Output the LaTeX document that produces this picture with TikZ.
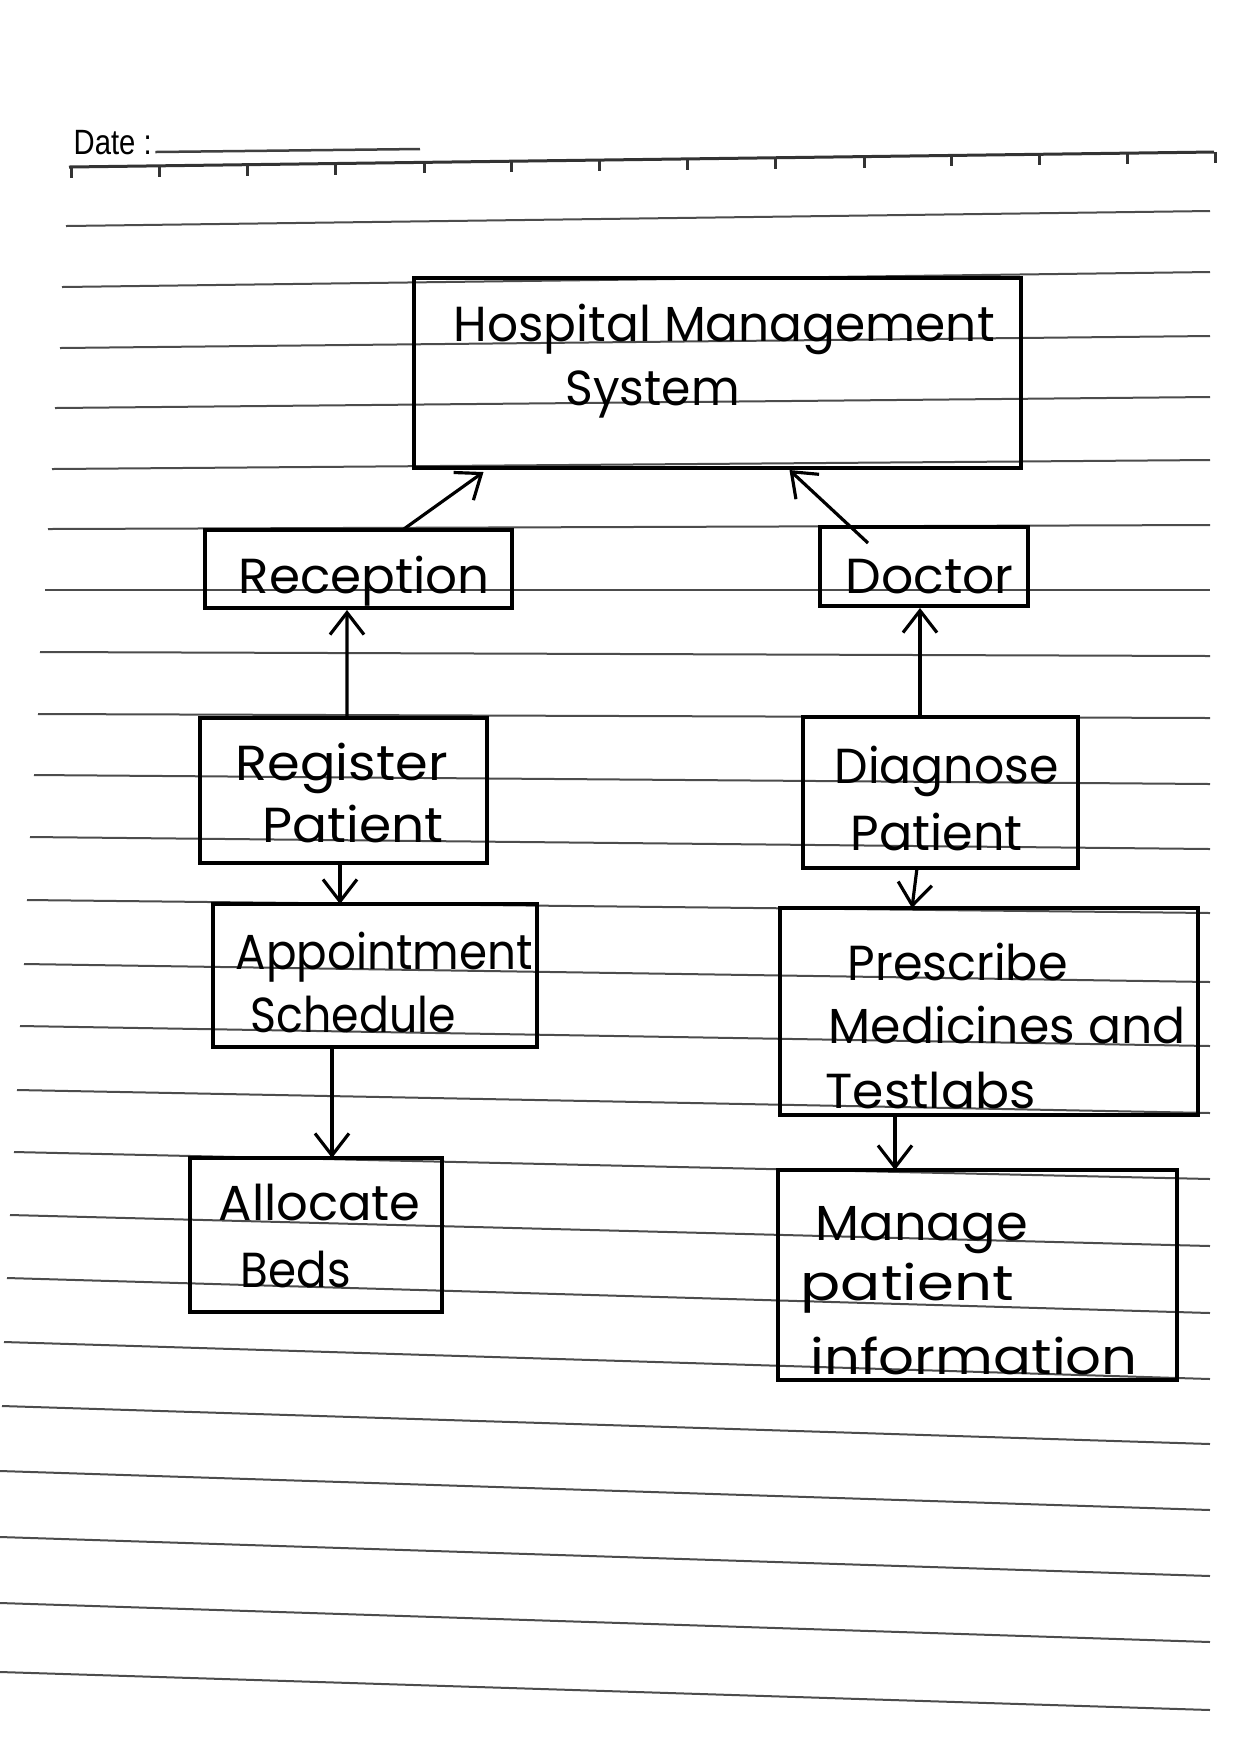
\documentclass[tikz,border=0pt]{standalone}
\usepackage{fontspec}
\usepackage{graphicx}
\setmainfont{Liberation Sans}
\newfontfamily\hand{Poppins}
\usetikzlibrary{arrows.meta,calc}
% set a handwritten word to a given width, keeping its height
\newcommand{\wordw}[2]{\resizebox{#1}{\height}{#2}}

\begin{document}
\begin{tikzpicture}[x=0.1mm,y=-0.1mm,
  box/.style={draw,line width=1.1pt,rectangle,inner sep=0pt,outer sep=0pt},
  lbl/.style={anchor=base west,inner sep=0pt,font=\hand\fontsize{14pt}{16pt}\selectfont},
  arr/.style={line width=0.9pt,-{Straight Barb[length=2.2mm,width=3.4mm,line width=0.9pt]}},
  rule/.style={line width=0.2mm,black!70}]
\useasboundingbox (0,0) rectangle (1240,1755);
\fill[white] (0,0) rectangle (1240,1755);

% ruled notebook lines: left x, left y, right y
\foreach \xl/\yl/\yr in {
  66/226/211, 62/287/272, 60/348/336, 55/408/397, 52/469/460,
  48/529/525, 45/590/590, 40/652/656, 38/714/718, 34/775/784,
  30/837/849, 27/900/913, 24/964/982, 20/1026/1046, 17/1090/1113,
  14/1152/1179, 10/1215/1246, 7/1278/1313, 4/1342/1379, 2/1406/1444,
  0/1471/1510, 0/1537/1576, 0/1603/1642, 0/1672/1710}
  \draw[rule] (\xl,\yl) -- (1210,\yr);

% top ruler with ticks
\coordinate (r1) at (69,167);
\coordinate (r2) at (1214,152);
\draw[line width=0.3mm,black!80] (r1) -- (r2);
\foreach \k in {0,...,13}
  \draw[line width=0.3mm,black!80] ($(r1)!{(3+88*\k)/1145}!(r2)$) -- ++(0,11);

% date field
\node[anchor=base west,inner sep=0pt,font=\fontsize{10pt}{12pt}\selectfont] (date) at (73,154) {\wordw{7.8mm}{Date :}};
\draw[line width=0.25mm,black!75] ($(date.base east)+(3,-2)$) -- (420,149);

% boxes
\node[box,minimum width=60.7mm,minimum height=19mm]   (hms)  at (717.5,373)  {};
\node[box,minimum width=30.7mm,minimum height=7.8mm]  (rec)  at (358.5,569)  {};
\node[box,minimum width=20.8mm,minimum height=7.9mm]  (doc)  at (924,566.5)  {};
\node[box,minimum width=28.7mm,minimum height=14.5mm] (reg)  at (343.5,790.5) {};
\node[box,minimum width=27.5mm,minimum height=15.1mm] (diag) at (940.5,792.5) {};
\node[box,minimum width=32.4mm,minimum height=14.3mm] (appt) at (375,975.5)  {};
\node[box,minimum width=41.8mm,minimum height=20.7mm] (pres) at (989,1011.5) {};
\node[box,minimum width=25.2mm,minimum height=15.4mm] (beds) at (316,1235)   {};
\node[box,minimum width=39.9mm,minimum height=21mm]   (mpi)  at (977.5,1275) {};

% labels
\node[lbl] (hms-a)  at (453,341)  {\wordw{54.1mm}{Hospital Management}};
\node[lbl] (hms-b)  at (565,405)  {\wordw{17.4mm}{System}};
\node[lbl] (rec-a)  at (238,593)  {\wordw{25.1mm}{Reception}};
\node[lbl] (doc-a)  at (845,593)  {\wordw{16.8mm}{Doctor}};
\node[lbl] (reg-a)  at (235,780)  {\wordw{21.2mm}{Register}};
\node[lbl] (reg-b)  at (262,842)  {\wordw{18.1mm}{Patient}};
\node[lbl] (diag-a) at (834,783)  {\wordw{22.4mm}{Diagnose}};
\node[lbl] (diag-b) at (850,850)  {\wordw{17.2mm}{Patient}};
\node[lbl] (appt-a) at (235,969)  {\wordw{29.7mm}{Appointment}};
\node[lbl] (appt-b) at (250,1032) {\wordw{20.5mm}{Schedule}};
\node[lbl] (pres-a) at (847,980)  {\wordw{22mm}{Prescribe}};
\node[lbl] (pres-b) at (828,1043) {\wordw{35.7mm}{Medicines and}};
\node[lbl] (pres-c) at (825,1108) {\wordw{21mm}{Testlabs}};
\node[lbl] (beds-a) at (218,1220) {\wordw{20.2mm}{Allocate}};
\node[lbl] (beds-b) at (240,1287) {\wordw{11mm}{Beds}};
\node[lbl] (mpi-a)  at (815,1240) {\wordw{21.2mm}{Manage}};
\node[lbl] (mpi-b)  at (800,1300) {\wordw{21.3mm}{patient}};
\node[lbl] (mpi-c)  at (810,1374) {\wordw{32.7mm}{information}};

% connectors
\draw[arr] ($(rec.north)+(44,0)$)     -- ($(hms.south)+(-234,4)$);
\draw[arr] ($(doc.north)+(-56,16)$)   -- ($(hms.south)+(72,2)$);
\draw[arr] ($(reg.north)+(3.5,0)$)    -- ($(rec.south)+(-11.5,2)$);
\draw[arr] ($(diag.north)+(-20.5,0)$) -- ($(doc.south)+(-4,2)$);
\draw[arr] ($(reg.south)+(-3.5,0)$)   -- ($(appt.north)+(-35,0)$);
\draw[arr] ($(diag.south)+(-23.5,0)$) -- ($(pres.north)+(-77,0)$);
\draw[arr] ($(appt.south)+(-43,0)$)   -- ($(beds.north)+(16,0)$);
\draw[arr] ($(pres.south)+(-94,0)$)   -- ($(mpi.north)+(-82.5,0)$);
\end{tikzpicture}
\end{document}
